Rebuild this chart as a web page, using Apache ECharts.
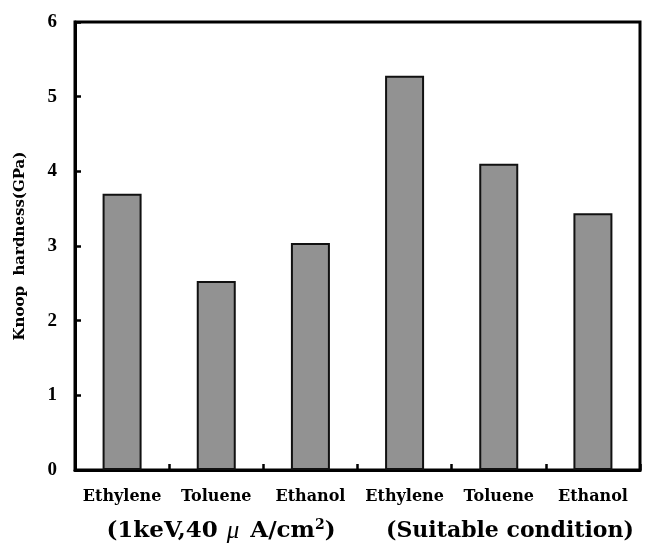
<!DOCTYPE html>
<html>
<head>
<meta charset="utf-8">
<script src="https://cdn.jsdelivr.net/npm/echarts@6/dist/echarts.min.js"></script>
<style>
  html, body { margin: 0; padding: 0; background: #fff; }
  #chart { width: 654px; height: 552px; }
</style>
</head>
<body>
<div id="chart"></div>
<script>
// Precursor gases, first three at 1 keV / 40 µA/cm², last three at the suitable condition
var categories = ['Ethylene', 'Toluene', 'Ethanol', 'Ethylene', 'Toluene', 'Ethanol'];
// Knoop hardness in GPa
var hardness = [3.70, 2.53, 3.04, 5.28, 4.10, 3.44];
var yTicks = [0, 1, 2, 3, 4, 5, 6];

var timesBold = '"Liberation Serif", "Times New Roman", serif';
var wideSerif = '"DejaVu Serif", "Liberation Serif", serif';

var chart = echarts.init(document.getElementById('chart'));
chart.setOption({
  animation: false,
  backgroundColor: '#ffffff',
  grid: {
    left: 75, right: 14, top: 22, bottom: 82,
    show: true,
    borderColor: '#000',
    borderWidth: 3,
    backgroundColor: 'transparent'
  },
  xAxis: {
    type: 'category',
    data: categories,
    boundaryGap: true,
    axisLine: { lineStyle: { color: '#000', width: 3 } },
    axisTick: { show: true, inside: true, interval: 0, length: 6, lineStyle: { color: '#000', width: 2.5 } },
    axisLabel: {
      interval: 0,
      hideOverlap: false,
      margin: 19,
      color: '#000',
      fontFamily: wideSerif,
      fontWeight: 'bold',
      fontSize: 16
    },
    splitLine: { show: false }
  },
  yAxis: {
    type: 'value',
    min: yTicks[0],
    max: yTicks[yTicks.length - 1],
    interval: 1,
    name: 'Knoop  hardness(GPa)',
    nameLocation: 'middle',
    nameGap: 47,
    nameRotate: 90,
    nameTextStyle: {
      color: '#000',
      fontFamily: wideSerif,
      fontWeight: 'bold',
      fontSize: 15
    },
    axisLine: { show: true, lineStyle: { color: '#000', width: 3 } },
    axisTick: { show: true, inside: true, length: 6, lineStyle: { color: '#000', width: 2.5 } },
    axisLabel: {
      margin: 18,
      color: '#000',
      fontFamily: timesBold,
      fontWeight: 'bold',
      fontSize: 19
    },
    splitLine: { show: false }
  },
  series: [{
    type: 'bar',
    data: hardness,
    barWidth: 39,
    itemStyle: {
      color: '#929292',
      borderColor: '#111',
      borderWidth: 2
    }
  }],
  graphic: [{
    type: 'text',
    x: 221,
    y: 531,
    style: {
      text: '{p|(1keV,40}{mu|μ}{p| A/cm}{sup|2}{p|)}',
      textAlign: 'center',
      textVerticalAlign: 'middle',
      rich: {
        p: { fontFamily: wideSerif, fontWeight: 'bold', fontSize: 23, fill: '#000' },
        mu: { fontFamily: timesBold, fontStyle: 'italic', fontSize: 25, fill: '#000', padding: [0, 3, 0, 9] },
        sup: { fontFamily: wideSerif, fontWeight: 'bold', fontSize: 14, fill: '#000', verticalAlign: 'top', padding: [0, 0, 12, 0] }
      }
    }
  }, {
    type: 'text',
    x: 510,
    y: 531,
    style: {
      text: '(Suitable condition)',
      textAlign: 'center',
      textVerticalAlign: 'middle',
      fontFamily: wideSerif,
      fontWeight: 'bold',
      fontSize: 22,
      fill: '#000'
    }
  }]
});
</script>
</body>
</html>
